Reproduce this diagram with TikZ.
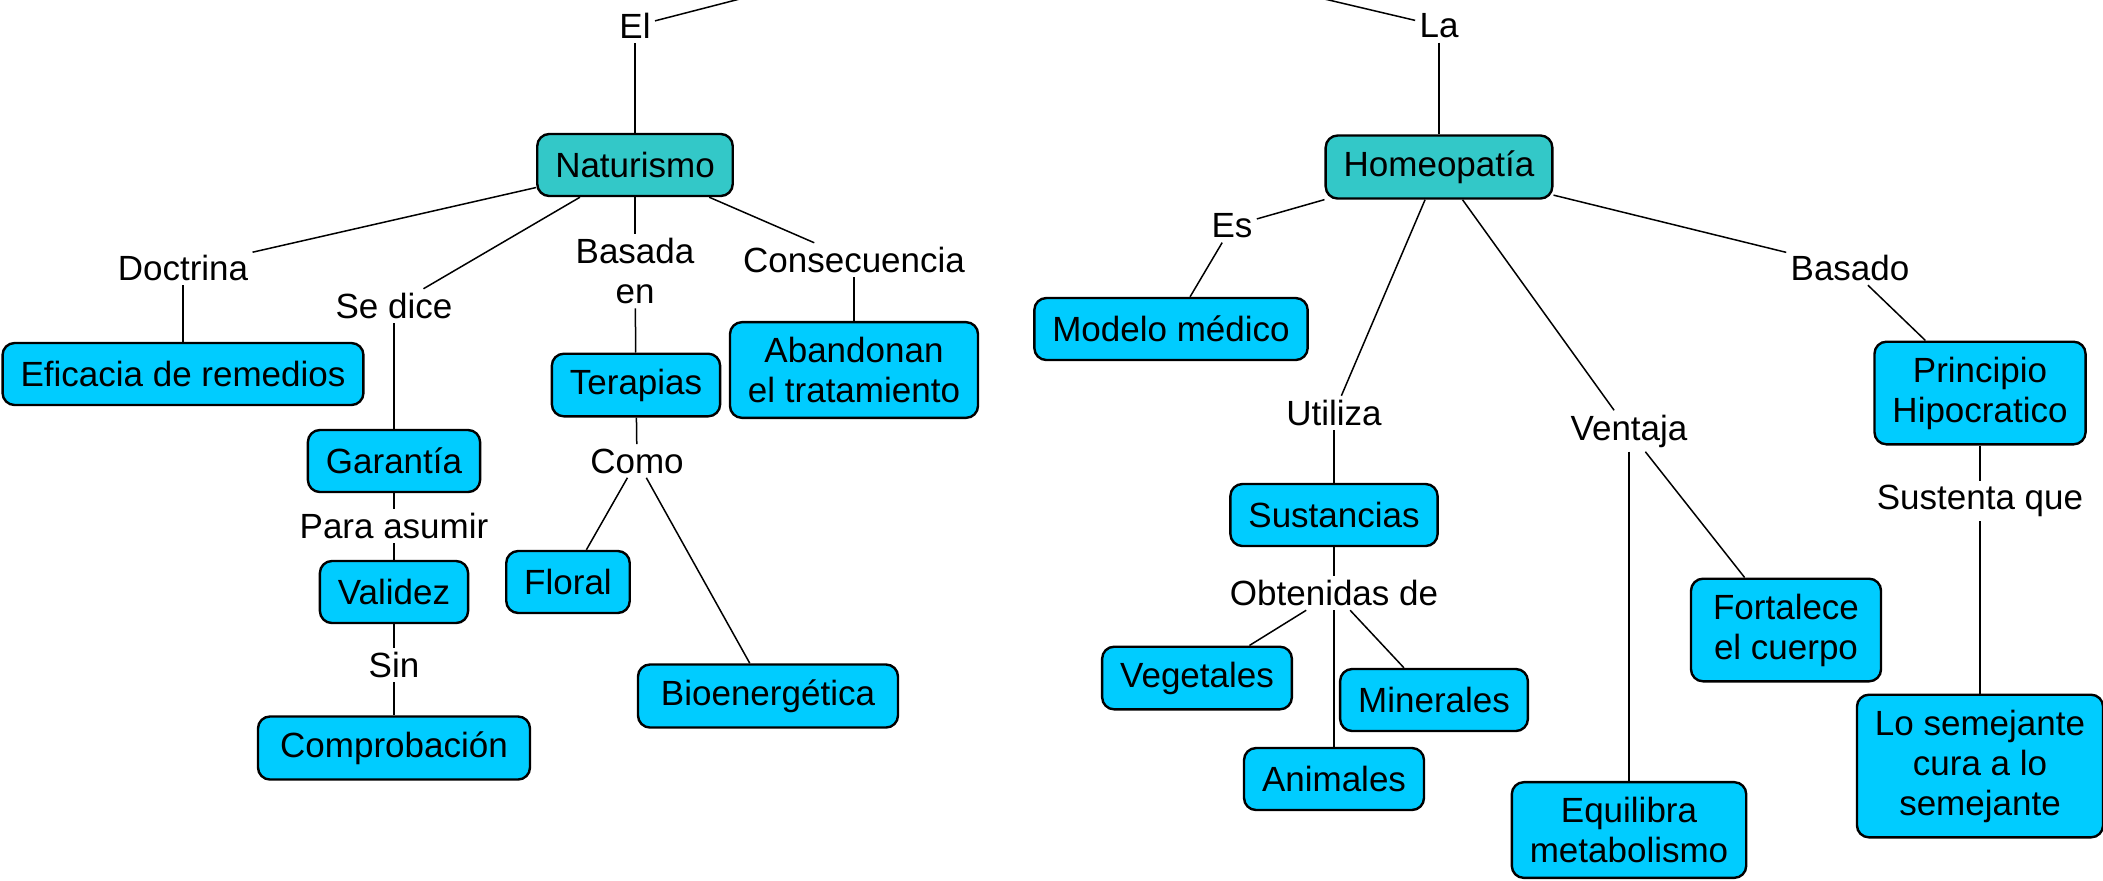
\documentclass[tikz,border=0pt]{standalone}
\usepackage{fontspec}
\setmainfont{Liberation Sans}
\usepackage{xcolor}
\definecolor{boxcyan}{RGB}{0,204,255}
\definecolor{boxteal}{RGB}{51,200,200}
\tikzset{
    x=0.5pt, y=-0.5pt, % one unit is one pixel, y grows downwards
    every node/.style={font=\fontsize{17.5}{20}\selectfont},
    concept/.style={draw, line width=1.2pt, rounded corners=6pt, fill=boxcyan,
        inner xsep=9pt, inner ysep=7.5pt, minimum height=31pt, align=center}, % the boxes
    maintopic/.style={concept, fill=boxteal}, % the two main ideas
    linkword/.style={inner sep=2pt, align=center}, % words on the lines
    every edge/.style={draw, line width=0.75pt},
}

\begin{document}
\begin{tikzpicture}
    \useasboundingbox (0,0) rectangle (2103,880);
    \clip (0,0) rectangle (2103,880);

    \coordinate (top) at (1019,-73);

    % Naturismo
    \node[linkword] (el) at (635,26) {El};
    \node[maintopic] (nat) at (635,165) {Naturismo};
    \node[linkword] (doc) at (183,268) {Doctrina};
    \node[concept] (efi) at (183,374) {Eficacia de remedios};
    \node[linkword] (sedice) at (394,306) {Se dice};
    \node[concept] (gar) at (394,461) {Garantía};
    \node[linkword] (para) at (394,526) {Para asumir};
    \node[concept] (val) at (394,592) {Validez};
    \node[linkword] (sin) at (394,665) {Sin};
    \node[concept, minimum width=136pt] (comp) at (394,748) {Comprobación};
    \node[linkword] (bas) at (635,271) {Basada\\en};
    \node[concept] (ter) at (636,385) {Terapias};
    \node[linkword] (como) at (637,461) {Como};
    \node[concept] (flo) at (568,582) {Floral};
    \node[concept, minimum width=130pt] (bio) at (768,696) {Bioenergética};
    \node[linkword] (cons) at (854,260) {Consecuencia};
    \node[concept] (aban) at (854,370) {Abandonan\\el tratamiento};

    % Homeopatia
    \node[linkword] (la) at (1439,26) {La};
    \node[maintopic] (hom) at (1439,167) {Homeopatía};
    \node[linkword] (es) at (1232,226) {Es};
    \node[concept] (mod) at (1171,329) {Modelo médico};
    \node[linkword] (uti) at (1334,413) {Utiliza};
    \node[concept] (sus) at (1334,515) {Sustancias};
    \node[linkword] (obt) at (1334,593) {Obtenidas de};
    \node[concept] (veg) at (1197,678) {Vegetales};
    \node[concept] (min) at (1434,700) {Minerales};
    \node[concept] (ani) at (1334,779) {Animales};
    \node[linkword] (ven) at (1629,431) {Ventaja};
    \node[concept, minimum width=95pt] (fort) at (1786,630) {Fortalece\\el cuerpo};
    \node[concept] (equi) at (1629,830) {Equilibra\\metabolismo};
    \node[linkword] (basdo) at (1850,268) {Basado};
    \node[concept] (prin) at (1980,393) {Principio\\Hipocratico};
    \node[linkword] (sust) at (1980,501) {Sustenta que};
    \node[concept] (lose) at (1980,766) {Lo semejante\\cura a lo\\semejante};

    \path
        (el) edge (top)
        (la) edge (top)
        (el) edge (nat)
        (nat) edge (doc)
        (doc) edge (efi)
        (nat) edge (sedice)
        (sedice) edge (gar)
        (gar) edge (para)
        (para) edge (val)
        (val) edge (sin)
        (sin) edge (comp)
        (nat) edge (bas)
        (bas) edge (ter)
        (ter) edge (como)
        (como) edge (flo)
        (como) edge (bio)
        (nat) edge (cons)
        (cons) edge (aban);

    \path
        (la) edge (hom)
        (hom) edge (es)
        (es) edge (mod)
        (hom) edge (uti)
        (uti) edge (sus)
        (sus) edge (obt)
        (obt) edge (veg)
        (obt) edge (min)
        (obt) edge (ani)
        (hom) edge (ven)
        (ven) edge (fort)
        (ven) edge (equi)
        (hom) edge (basdo)
        (basdo) edge (prin)
        (prin) edge (sust)
        (sust) edge (lose);
\end{tikzpicture}
\end{document}
